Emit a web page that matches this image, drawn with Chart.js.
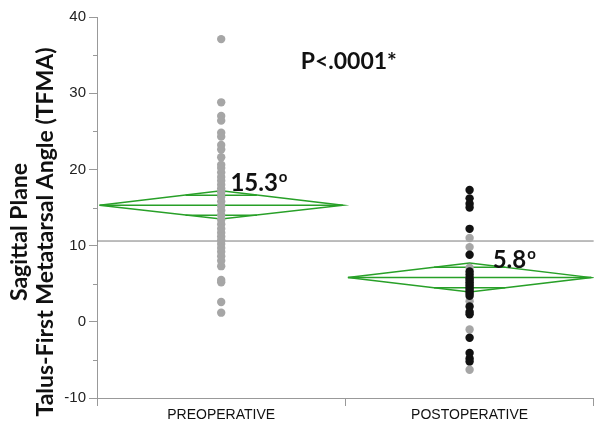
<!DOCTYPE html>
<html>
<head>
<meta charset="utf-8">
<script src="https://cdn.jsdelivr.net/npm/chart.js@4/dist/chart.umd.min.js"></script>
<style>
html,body{margin:0;padding:0;background:#fff}
#wrap{width:598px;height:423px}
</style>
</head>
<body>
<div id="wrap"><canvas id="chart"></canvas></div>
<script>
const groups=["PREOPERATIVE","POSTOPERATIVE"]

// TFMA values
const preop=[37.1,28.8,27.0,26.4,24.8,24.3,23.2,22.6,21.6,20.6,20.2,19.6,19.0,18.5,18.0,17.5,17.0,16.4,15.8,15.2,
14.6,14.0,13.4,12.8,12.2,11.7,11.2,10.7,10.2,9.7,9.2,8.6,8.0,7.3,5.5,5.2,2.6,1.2]
const postopBlack=[17.3,16.2,15.5,15.0,12.2,8.8,6.6,6.2,5.8,5.5,5.2,4.9,4.6,4.3,4.0,3.7,3.4,2.0,1.3,1.0,-2.1,-4.1,-4.8,-5.2]
const postopGray=[11.0,9.8,7.1,5.7,2.7,-1.0,-6.3]

const means=[15.3,5.8]
const ciLow=[13.5,3.9]
const ciHigh=[17.2,7.7]
const grandMean=10.6

const yTicks=[-10,0,10,20,30,40]
const yMinor=[-5,5,15,25,35]

const green="#28a028"
const halfW=0.49

function pts(vals,gi){ return vals.map(v=>({x:gi+0.5,y:v})) }

function lineSet(data,color,width){
return {type:"line",data:data,borderColor:color,borderWidth:width,pointRadius:0,fill:false,tension:0}
}

const datasets=[
{data:pts(preop,0),backgroundColor:"#a6a6a6",pointRadius:4.2,pointHoverRadius:4.2,borderWidth:0},
{data:pts(postopBlack,1),backgroundColor:"#111",pointRadius:4.2,pointHoverRadius:4.2,borderWidth:0},
{data:pts(postopGray,1),backgroundColor:"#a6a6a6",pointRadius:4.2,pointHoverRadius:4.2,borderWidth:0}
]

means.forEach((m,i)=>{
const c=i+0.5, l=c-halfW, r=c+halfW
const hi=ciHigh[i], lo=ciLow[i]
datasets.push(lineSet([{x:l,y:m},{x:c,y:hi},{x:r,y:m},{x:c,y:lo},{x:l,y:m}],green,1.5))
datasets.push(lineSet([{x:l,y:m},{x:r,y:m}],green,1.5))
// overlap marks
const off=(hi-lo)/2/Math.SQRT2
const w=halfW*(1-1/Math.SQRT2)
datasets.push(lineSet([{x:c-w,y:m+off},{x:c+w,y:m+off}],green,1.5))
datasets.push(lineSet([{x:c-w,y:m-off},{x:c+w,y:m-off}],green,1.5))
})

datasets.push(lineSet([{x:0,y:grandMean},{x:2,y:grandMean}],"#7a7a7a",1))

const extras={
id:"extras",
afterDraw(chart){
const ctx=chart.ctx
const xs=chart.scales.x, ys=chart.scales.y
ctx.save()
// minor ticks
ctx.strokeStyle="#999"
ctx.lineWidth=1
yMinor.forEach(v=>{
const y=Math.round(ys.getPixelForValue(v))+0.5
ctx.beginPath()
ctx.moveTo(xs.left-4,y)
ctx.lineTo(xs.left,y)
ctx.stroke()
})
// annotations
ctx.fillStyle="#111"
ctx.textBaseline="middle"
ctx.textAlign="left"
ctx.font="bold 23px Lato"
ctx.fillText("P<.0001*",xs.getPixelForValue(0.82),ys.getPixelForValue(34.1))
const labels=[{t:means[0].toFixed(1),x:0.537,y:18.2},{t:means[1].toFixed(1),x:1.593,y:8.1}]
labels.forEach(a=>{
const px=xs.getPixelForValue(a.x), py=ys.getPixelForValue(a.y)
ctx.font="bold 24px Lato"
ctx.fillText(a.t,px,py)
const w=ctx.measureText(a.t).width
ctx.font="bold 15px Lato"
ctx.fillText("o",px+w+1,py-6)
})
// y title
ctx.font="bold 23px Lato"
ctx.textAlign="center"
ctx.translate(0,232)
ctx.rotate(-Math.PI/2)
ctx.fillText("Sagittal Plane",0,20)
ctx.fillText("Talus-First Metatarsal Angle (TFMA)",0,46)
ctx.restore()
}
}

new Chart(document.getElementById("chart"),{
type:"scatter",
data:{datasets:datasets},
options:{
responsive:true,
maintainAspectRatio:false,
animation:false,
layout:{padding:{top:17,right:0,left:0,bottom:0}},
plugins:{legend:{display:false},tooltip:{enabled:false}},
scales:{
x:{
type:"linear",min:0,max:2,
afterBuildTicks:s=>{s.ticks=[0,0.5,1,1.5,2].map(v=>({value:v}))},
afterFit:s=>{s.height=25},
ticks:{
autoSkip:false,maxRotation:0,padding:1,color:"#111",
font:{family:"Liberation Sans",size:14},
callback:v=>v===0.5?groups[0]:(v===1.5?groups[1]:"")
},
grid:{drawOnChartArea:false,tickLength:8,tickColor:c=>Number.isInteger(c.tick.value)?"#999":"rgba(0,0,0,0)"},
border:{color:"#999"}
},
y:{
min:-10,max:40,
afterBuildTicks:s=>{s.ticks=yTicks.map(v=>({value:v}))},
afterFit:s=>{s.width=97},
ticks:{color:"#222",padding:3,font:{family:"Liberation Sans",size:15}},
grid:{drawOnChartArea:false,tickLength:8,tickColor:"#999"},
border:{color:"#999"}
}
}
},
plugins:[extras]
})
</script>
</body>
</html>
